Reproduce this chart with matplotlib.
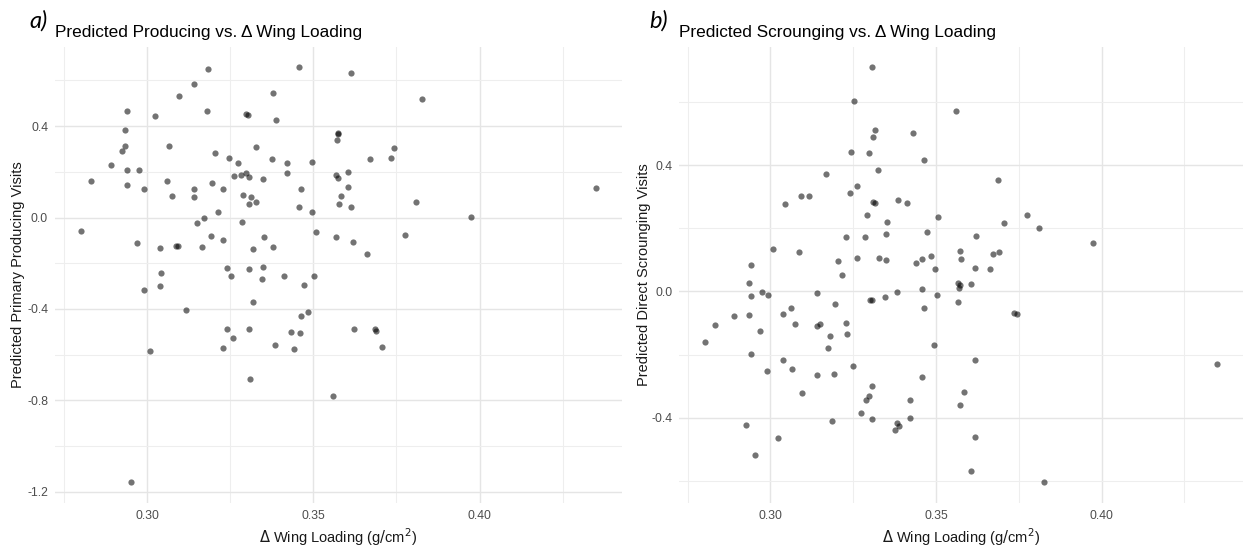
import matplotlib
matplotlib.use("Agg")
import matplotlib.pyplot as plt
from matplotlib.ticker import FixedLocator

# Change in wing loading (g/cm^2) and predicted visits per bird
wing_prod = [
    0.3185, 0.3458, 0.3615, 0.3140, 0.3095, 0.3380, 0.2940, 0.3182, 0.3023, 0.3297,
    0.3303, 0.3387, 0.3827, 0.2935, 0.3573, 0.3575, 0.3570, 0.2935, 0.3067, 0.2926,
    0.3327, 0.3744, 0.3205, 0.3247, 0.3375, 0.3671, 0.3735, 0.2891, 0.3274, 0.3420,
    0.3495, 0.2833, 0.2940, 0.2975, 0.3061, 0.2940, 0.2992, 0.3263, 0.3284, 0.3297,
    0.3306, 0.3349, 0.3420, 0.3567, 0.3573, 0.3604, 0.3196, 0.3140, 0.3140, 0.3229,
    0.3464, 0.3604, 0.3075, 0.3290, 0.3312, 0.3306, 0.3327, 0.3584, 0.3576, 0.3458,
    0.3615, 0.3810, 0.3215, 0.3173, 0.3495, 0.3149, 0.3287, 0.2801, 0.3507, 0.3973,
    0.4350, 0.2969, 0.3193, 0.3229, 0.3352, 0.3567, 0.3619, 0.3775, 0.3038, 0.3087,
    0.3092, 0.3167, 0.3318, 0.3380, 0.3662, 0.3043, 0.3242, 0.3306, 0.3349, 0.3254,
    0.3347, 0.3412, 0.3501, 0.2990, 0.3038, 0.3472, 0.3117, 0.3318, 0.3484, 0.3464,
    0.3241, 0.3306, 0.3432, 0.3459, 0.3260, 0.3623, 0.3686, 0.3689, 0.3707, 0.3230,
    0.3384, 0.3441, 0.3010, 0.3309, 0.3558, 0.2952,
]
producing = [
    0.650, 0.657, 0.632, 0.585, 0.533, 0.546, 0.465, 0.465, 0.445, 0.452,
    0.449, 0.427, 0.521, 0.385, 0.369, 0.366, 0.338, 0.313, 0.313, 0.291,
    0.309, 0.304, 0.282, 0.260, 0.256, 0.256, 0.260, 0.231, 0.240, 0.240,
    0.243, 0.159, 0.206, 0.206, 0.162, 0.142, 0.127, 0.181, 0.186, 0.193,
    0.176, 0.167, 0.193, 0.186, 0.171, 0.198, 0.151, 0.127, 0.090, 0.123,
    0.127, 0.132, 0.095, 0.099, 0.089, 0.060, 0.068, 0.095, 0.060, 0.048,
    0.048, 0.068, 0.022, 0.000, 0.022, -0.025, -0.021, -0.059, -0.063, 0.004,
    0.129, -0.110, -0.081, -0.097, -0.085, -0.085, -0.105, -0.076, -0.135, -0.123,
    -0.123, -0.127, -0.139, -0.127, -0.161, -0.241, -0.220, -0.224, -0.217, -0.258,
    -0.268, -0.258, -0.255, -0.319, -0.302, -0.297, -0.404, -0.371, -0.413, -0.433,
    -0.486, -0.490, -0.502, -0.507, -0.529, -0.486, -0.486, -0.499, -0.566, -0.571,
    -0.558, -0.575, -0.584, -0.707, -0.780, -1.159,
]

wing_scr = [
    0.3306, 0.3253, 0.3317, 0.3309, 0.3432, 0.3242, 0.3297, 0.3464, 0.3326, 0.3167,
    0.3260, 0.3239, 0.3092, 0.3116, 0.3044, 0.3311, 0.3317, 0.3384, 0.3413, 0.3291,
    0.3352, 0.3507, 0.3229, 0.3286, 0.3348, 0.3472, 0.3009, 0.3086, 0.2941, 0.3204,
    0.3262, 0.3327, 0.3348, 0.3441, 0.3458, 0.3484, 0.3496, 0.3217, 0.3559, 0.3686,
    0.3705, 0.3775, 0.3810, 0.3973, 0.3622, 0.3573, 0.3576, 0.3672, 0.3689, 0.3619,
    0.3662, 0.3567, 0.3573, 0.3570, 0.3605, 0.3502, 0.3567, 0.3736, 0.3744, 0.3495,
    0.3617, 0.4350, 0.3585, 0.3573, 0.3617, 0.3605, 0.3826, 0.2935, 0.2941, 0.2975,
    0.2993, 0.3142, 0.3196, 0.3301, 0.3307, 0.3346, 0.3382, 0.3458, 0.3464, 0.2891,
    0.2935, 0.2833, 0.2802, 0.2969, 0.2941, 0.3038, 0.3061, 0.3075, 0.3142, 0.3150,
    0.3229, 0.3181, 0.3230, 0.3173, 0.3038, 0.3066, 0.2990, 0.3142, 0.3193, 0.3250,
    0.3458, 0.3095, 0.3306, 0.3297, 0.3288, 0.3421, 0.3274, 0.3306, 0.3421, 0.3185,
    0.3381, 0.3388, 0.3375, 0.2926, 0.3024, 0.2952,
]
scrounging = [
    0.710, 0.605, 0.513, 0.488, 0.503, 0.441, 0.439, 0.416, 0.386, 0.371,
    0.334, 0.312, 0.303, 0.303, 0.276, 0.282, 0.279, 0.291, 0.279, 0.242,
    0.219, 0.235, 0.174, 0.171, 0.183, 0.187, 0.133, 0.124, 0.084, 0.096,
    0.106, 0.106, 0.099, 0.090, 0.103, 0.112, 0.072, 0.053, 0.571, 0.352,
    0.216, 0.241, 0.200, 0.155, 0.176, 0.129, 0.102, 0.120, 0.126, 0.074,
    0.071, 0.028, 0.019, 0.010, 0.022, -0.010, -0.032, -0.068, -0.071, -0.169,
    -0.216, -0.229, -0.319, -0.361, -0.463, -0.569, -0.605, 0.028, -0.013, -0.001,
    -0.010, -0.004, -0.040, -0.028, -0.028, -0.019, -0.001, 0.009, -0.053, -0.077,
    -0.074, -0.108, -0.160, -0.127, -0.198, -0.071, -0.052, -0.103, -0.111, -0.103,
    -0.099, -0.142, -0.136, -0.179, -0.217, -0.247, -0.253, -0.266, -0.263, -0.237,
    -0.272, -0.322, -0.300, -0.331, -0.345, -0.343, -0.386, -0.405, -0.401, -0.411,
    -0.416, -0.426, -0.439, -0.423, -0.466, -0.518,
]

x_major = [0.30, 0.35, 0.40]
x_minor = [0.275, 0.325, 0.375, 0.425]

titles = ["Predicted Producing vs. \u0394 Wing Loading",
          "Predicted Scrounging vs. \u0394 Wing Loading"]
ylabels = ["Predicted Primary Producing Visits",
           "Predicted Direct Scrounging Visits"]
xlabel = r"$\Delta$ Wing Loading (g$/$cm$^2$)"
panel_tags = ["a)", "b)"]

FONT = "Liberation Sans"
W, H = 1243, 550

fig = plt.figure(figsize=(W / 100, H / 100), dpi=100)
fig.patch.set_facecolor("white")


def px(x):
    return x / W


def py(y):
    return 1 - y / H


panels = [
    dict(left=55, right=621.7, xs=wing_prod, ys=producing,
         ymaj=[-1.2, -0.8, -0.4, 0.0, 0.4], ymin=[-1.0, -0.6, -0.2, 0.2, 0.6],
         ylab_x=18, tag_x=29),
    dict(left=679.3, right=1243, xs=wing_scr, ys=scrounging,
         ymaj=[-0.4, 0.0, 0.4], ymin=[-0.6, -0.2, 0.2, 0.6],
         ylab_x=644, tag_x=649),
]

top, bottom = 46.7, 503.0
for i, p in enumerate(panels):
    ax = fig.add_axes([px(p["left"]), py(bottom),
                       px(p["right"] - p["left"]), (bottom - top) / H])
    ax.scatter(p["xs"], p["ys"], s=20, color="black", alpha=0.55,
               linewidths=0, zorder=3)
    ax.margins(0.05)
    ax.xaxis.set_major_locator(FixedLocator(x_major))
    ax.xaxis.set_minor_locator(FixedLocator(x_minor))
    ax.yaxis.set_major_locator(FixedLocator(p["ymaj"]))
    ax.yaxis.set_minor_locator(FixedLocator(p["ymin"]))
    ax.set_xticklabels([f"{v:.2f}" for v in x_major])
    ax.set_yticklabels([f"{v:.1f}" for v in p["ymaj"]])
    ax.grid(which="major", color="#E5E5E5", linewidth=1.0, zorder=0)
    ax.grid(which="minor", color="#EEEEEE", linewidth=0.8, zorder=0)
    ax.set_axisbelow(True)
    for s in ax.spines.values():
        s.set_visible(False)
    ax.tick_params(which="both", length=0)
    ax.tick_params(axis="x", pad=5)
    ax.tick_params(axis="y", pad=5)
    for lab in ax.get_xticklabels() + ax.get_yticklabels():
        lab.set_fontfamily(FONT)
        lab.set_fontsize(8.8)
        lab.set_color("#4D4D4D")

    cx = (p["left"] + p["right"]) / 2
    fig.text(px(cx), py(537), xlabel, ha="center", va="center",
             fontsize=10.5, family=FONT, color="#1A1A1A")
    fig.text(px(p["ylab_x"]), py((top + bottom) / 2), ylabels[i],
             rotation=90, ha="center", va="center",
             fontsize=10.5, family=FONT, color="#1A1A1A")
    fig.text(px(p["left"]), py(37.3), titles[i], ha="left", va="baseline",
             fontsize=12.4, family=FONT, color="black")
    fig.text(px(p["tag_x"]), py(28), panel_tags[i], ha="left", va="baseline",
             fontsize=17, family="Lato", style="italic", color="black")

fig.savefig("out.png", dpi=100, facecolor="white")
